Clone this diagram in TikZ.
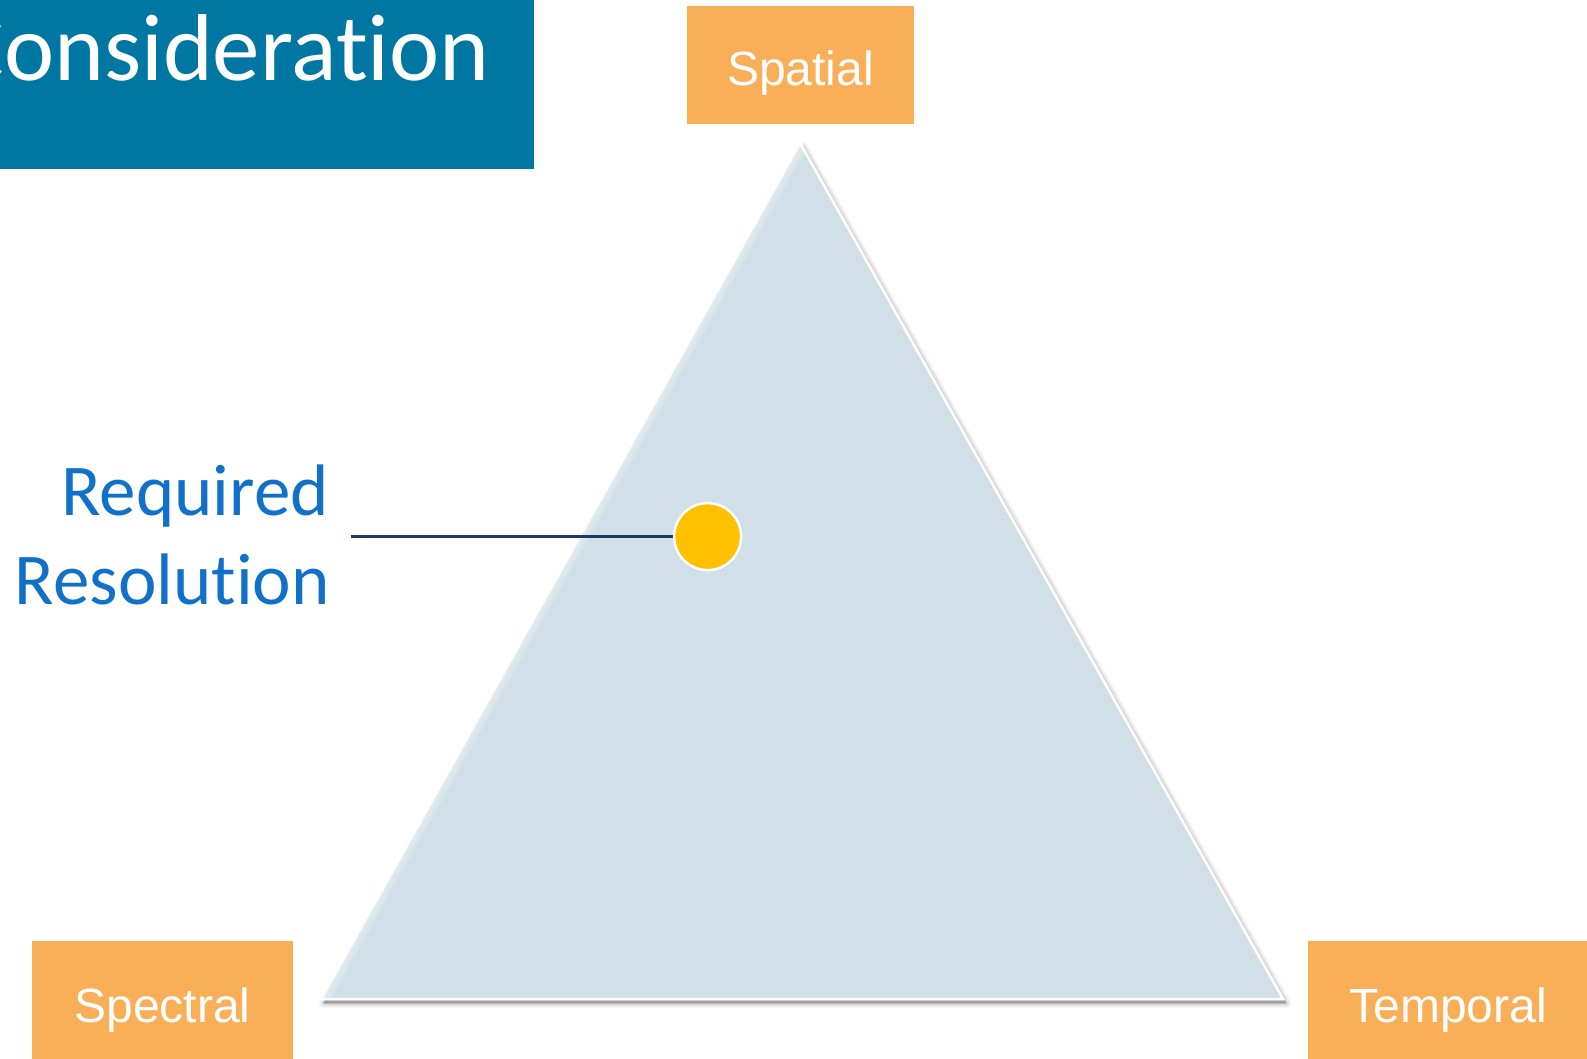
\documentclass[tikz,border=0pt]{standalone}
\usepackage{fontspec}
\setmainfont{Carlito}
\newfontfamily\arialf{Liberation Sans}
\newfontfamily\calf[Ligatures={NoCommon}]{Carlito}
\definecolor{titleblue}{RGB}{0,119,163}
\definecolor{boxorange}{RGB}{249,174,88}
\definecolor{trifill}{RGB}{208,223,232}
\definecolor{triglow}{RGB}{228,238,246}
\definecolor{dotyellow}{RGB}{255,192,0}
\definecolor{connnavy}{RGB}{31,56,100}
\definecolor{reqblue}{RGB}{17,112,200}
\tikzset{
  titlebox/.style={rectangle, fill=titleblue, inner sep=0pt},
  titletext/.style={inner sep=0pt, text=white, font=\calf\fontsize{95}{114}\selectfont},
  obox/.style={rectangle, fill=boxorange, inner sep=0pt, anchor=north west},
  olabel/.style={inner sep=0pt, text=white, anchor=base, font=\arialf\fontsize{48}{58}\selectfont},
  reqtext/.style={inner sep=0pt, text=reqblue, anchor=base east, font=\calf\fontsize{73}{88}\selectfont},
  dotnode/.style={circle, fill=dotyellow, draw=white, line width=2.5pt, minimum size=67pt, inner sep=0pt},
  conn/.style={draw=connnavy, line width=2.5pt},
  trishadow/.style={draw=black, line join=round},
}
\begin{document}
\begin{tikzpicture}[x=1pt,y=1pt]
\useasboundingbox (0,0) rectangle (1587,1058);
\clip (0,0) rectangle (1587,1058);
% title
\node[titlebox, anchor=north west, minimum width=534pt, minimum height=169pt] (titlebox) at (0,1058) {};
\node[titletext, anchor=base east] (title) at (490,977) {Consideration};
% triangle
\coordinate (A) at (800,915);
\coordinate (B) at (321,59);
\coordinate (C) at (1283,59);
\foreach \w/\o in {10/0.04,7/0.05,4/0.07,1.5/0.1}{
  \draw[trishadow, line width=\w pt, opacity=\o, fill=black]
    ([shift={(3,-4)}]A) -- ([shift={(3,-4)}]B) -- ([shift={(3,-4)}]C) -- cycle;
}
\fill[trifill] (A) -- (B) -- (C) -- cycle;
\begin{scope}
  \clip (A) -- (B) -- (C) -- cycle;
  \foreach \w/\o in {18/0.35,12/0.45,6/0.6}{
    \draw[triglow, line width=\w pt, opacity=\o] (A) -- (B);
  }
\end{scope}
\draw[white, line width=2.5pt, line join=miter] (A) -- (B) -- (C) -- cycle;
% corner boxes
\node[obox, minimum width=227pt, minimum height=118pt] (spatialbox) at (687,1052) {};
\node[obox, minimum width=261pt, minimum height=130pt] (spectralbox) at (32,117) {};
\node[obox, minimum width=290pt, minimum height=130pt] (temporalbox) at (1308,117) {};
\node[olabel] (spatial) at (800.5,972) {Spatial};
\node[olabel] (spectral) at (162.5,36) {Spectral};
\node[olabel] (temporal) at (1448,36) {Temporal};
% required resolution
\node[reqtext] (req1) at (329,542) {Required};
\node[reqtext] (req2) at (330,453) {Resolution};
\coordinate (connstart) at (351,521.4);
\node[dotnode] (dot) at (707.6,521.4) {};
\draw[conn] (connstart) -- (dot.west);
\end{tikzpicture}
\end{document}
